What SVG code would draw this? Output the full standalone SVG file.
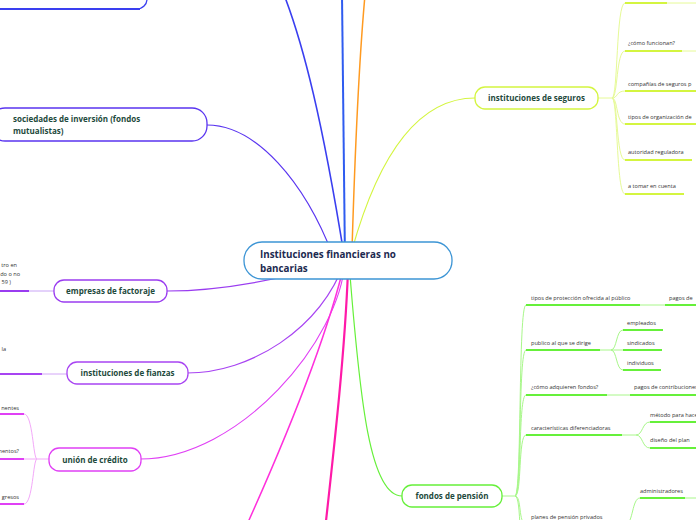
<svg xmlns="http://www.w3.org/2000/svg" width="696" height="520" viewBox="0 0 696 520">
<style>
.node{fill:#fff;stroke-width:1.3}
.nt{font-family:"Open Sans","Noto Sans",sans-serif;font-weight:700;font-size:8px;fill:#1e4a3c}
.ct{font-family:"Open Sans","Noto Sans",sans-serif;font-weight:700;font-size:9.8px;fill:#1c2a50}
.lt{font-family:"Open Sans","Noto Sans",sans-serif;font-size:5.6px;fill:#333}
.c{fill:none}
</style>
<rect width="696" height="520" fill="#fff"/>
<g id="connectors">
  <path class="c" d="M345 261 C324 130 304 40 278 -20" stroke="#3a3ff0" stroke-width="1.6"/>
  <path class="c" d="M345 261 C344 170 343 80 342 -5" stroke="#2f5cf0" stroke-width="2"/>
  <path class="c" d="M352 250 C355 150 360 50 365 -5" stroke="#ff9a20" stroke-width="1.5"/>
  <path class="c" d="M335 261 C305 180 255 125 207 125" stroke="#5a35f0" stroke-width="1.2"/>
  <path class="c" d="M345 261 C280 280 220 291 167 291" stroke="#9a3cf0" stroke-width="1.2"/>
  <path class="c" d="M345 261 C320 330 250 373 187 373" stroke="#a844f2" stroke-width="1.2"/>
  <path class="c" d="M345 261 C340 340 240 459 140 459" stroke="#e040f5" stroke-width="1.1"/>
  <path class="c" d="M345 261 Q322 360 240 540" stroke="#ff30dc" stroke-width="1.5"/>
  <path class="c" d="M348 270 C345 350 335 440 325 530" stroke="#ff1aa8" stroke-width="2.2"/>
  <path class="c" d="M350 275 C360 400 370 496 402 496" stroke="#66f03a" stroke-width="1.2"/>
  <path class="c" d="M352 250 C380 150 420 98 475 98" stroke="#d4f540" stroke-width="1.2"/>

  <line x1="0" y1="9" x2="140" y2="9" stroke="#3a3ff0" stroke-width="2"/>

  <line x1="29" y1="291" x2="54" y2="291" stroke="#c9a4f6" stroke-width="1"/>
  <line x1="0" y1="291" x2="29" y2="291" stroke="#9a3cf0" stroke-width="2"/>
  <line x1="42" y1="374" x2="67" y2="374" stroke="#d2a6f7" stroke-width="1"/>
  <line x1="0" y1="374" x2="42" y2="374" stroke="#a844f2" stroke-width="2"/>
  <path class="c" d="M49 459 L37 459 C33 459 33 414 24 414" stroke="#f3a8f9" stroke-width="1"/>
  <path class="c" d="M37 459 L24 459" stroke="#f3a8f9" stroke-width="1"/>
  <path class="c" d="M37 459 C33 459 33 504 24 504" stroke="#f3a8f9" stroke-width="1"/>
  <line x1="0" y1="414" x2="24" y2="414" stroke="#e040f5" stroke-width="2"/>
  <line x1="0" y1="459" x2="24" y2="459" stroke="#e040f5" stroke-width="2"/>
  <line x1="0" y1="504" x2="24" y2="504" stroke="#e040f5" stroke-width="2"/>

  <g stroke="#e6fa96" stroke-width="1" fill="none">
    <path d="M598 98 L612 98"/>
    <path d="M612 98 C618 98 616 3 625 3"/>
    <path d="M612 98 C618 98 616 51 625 51"/>
    <path d="M612 98 C618 98 616 91 625 91"/>
    <path d="M612 98 C618 98 616 124 625 124"/>
    <path d="M612 98 C618 98 616 160 625 160"/>
    <path d="M612 98 C618 98 616 194 625 194"/>
    <line x1="667" y1="3" x2="696" y2="3"/>
    <line x1="682" y1="51" x2="696" y2="51"/>
  </g>
  <g stroke="#d4f540" stroke-width="2">
    <line x1="625" y1="3" x2="667" y2="3"/>
    <line x1="625" y1="51" x2="682" y2="51"/>
    <line x1="625" y1="91" x2="696" y2="91"/>
    <line x1="625" y1="124" x2="696" y2="124"/>
    <line x1="625" y1="160" x2="692" y2="160"/>
    <line x1="625" y1="194" x2="684" y2="194"/>
  </g>

  <g stroke="#a8f78a" stroke-width="1" fill="none">
    <path d="M502 496 L515 496"/>
    <path d="M515 496 C522 496 518 305 526 305"/>
    <path d="M515 496 C522 496 518 350 526 350"/>
    <path d="M515 496 C522 496 518 395 526 395"/>
    <path d="M515 496 C522 496 518 435 526 435"/>
    <path d="M515 496 C522 496 518 524 526 524"/>
    <path d="M515 496 C522 496 518 560 526 560"/>
    <line x1="640" y1="305" x2="665" y2="305"/>
    <path d="M600 350 L611 350 C617 350 616 330 623 330"/>
    <path d="M611 350 L623 350"/>
    <path d="M611 350 C617 350 616 370 623 370"/>
    <line x1="607" y1="395" x2="630" y2="395"/>
    <path d="M622 435 L636 435 C643 435 642 422 650 422"/>
    <path d="M636 435 C643 435 642 448 650 448"/>
    <path d="M610 524 L626 524 C633 524 632 498 640 498"/>
    <line x1="685" y1="498" x2="696" y2="498"/>
  </g>
  <g stroke="#66f03a" stroke-width="2">
    <line x1="526" y1="305" x2="640" y2="305"/>
    <line x1="665" y1="305" x2="696" y2="305"/>
    <line x1="526" y1="350" x2="600" y2="350"/>
    <line x1="623" y1="330" x2="663" y2="330"/>
    <line x1="623" y1="350" x2="662" y2="350"/>
    <line x1="623" y1="370" x2="661" y2="370"/>
    <line x1="526" y1="395" x2="607" y2="395"/>
    <line x1="630" y1="395" x2="696" y2="395"/>
    <line x1="526" y1="435" x2="622" y2="435"/>
    <line x1="650" y1="422" x2="696" y2="422"/>
    <line x1="650" y1="448" x2="696" y2="448"/>
    <line x1="526" y1="524" x2="610" y2="524"/>
    <line x1="640" y1="498" x2="685" y2="498"/>
  </g>
</g>

<g id="node-top-left">
  <rect class="node" x="-30" y="-30" width="177" height="39" rx="10" stroke="#3a3ff0" stroke-width="0.8"/>
  <line x1="0" y1="9" x2="140" y2="9" stroke="#3a3ff0" stroke-width="2"/>
</g>

<g id="node-sociedades">
  <rect class="node" x="-10" y="108" width="217" height="33" rx="15" stroke="#5a35f0"/>
  <text class="nt" x="13" y="122">sociedades de inversión (fondos</text>
  <text class="nt" x="13" y="134">mutualistas)</text>
</g>

<g id="node-factoraje">
  <rect class="node" x="54" y="280" width="113" height="22" rx="10" stroke="#9a3cf0"/>
  <text class="nt" x="110.5" y="294" text-anchor="middle">empresas de factoraje</text>
</g>
<g id="leaf-factoraje">
  <text class="lt" x="17" y="267" text-anchor="end">tro en</text>
  <text class="lt" x="20" y="276" text-anchor="end">do o no</text>
  <text class="lt" x="11" y="284" text-anchor="end">59 )</text>
</g>

<g id="node-fianzas">
  <rect class="node" x="67" y="362" width="121" height="22" rx="10" stroke="#a844f2"/>
  <text class="nt" x="127.5" y="376" text-anchor="middle">instituciones de fianzas</text>
</g>
<g id="leaf-fianzas">
  <text class="lt" x="6" y="351" text-anchor="end">la</text>
</g>

<g id="node-union">
  <rect class="node" x="49" y="448" width="92" height="23" rx="10" stroke="#e040f5"/>
  <text class="nt" x="95" y="462.5" text-anchor="middle">unión de crédito</text>
</g>
<g id="leaf-union">
  <text class="lt" x="19" y="410" text-anchor="end">nentes</text>
  <text class="lt" x="19" y="453" text-anchor="end">mentos?</text>
  <text class="lt" x="19" y="499" text-anchor="end">gresos</text>
</g>

<g id="node-center">
  <rect class="node" x="244" y="242" width="208" height="37" rx="18" stroke="#3d95d5"/>
  <text class="ct" x="260" y="258">Instituciones financieras no</text>
  <text class="ct" x="260" y="272">bancarias</text>
</g>

<g id="node-seguros">
  <rect class="node" x="475" y="87" width="123" height="22" rx="10" stroke="#d4f540"/>
  <text class="nt" x="536.5" y="101" text-anchor="middle">instituciones de seguros</text>
</g>
<g id="leaves-seguros">
  <text class="lt" x="628" y="45">¿cómo funcionan?</text>
  <text class="lt" x="628" y="86">compañías de seguros p</text>
  <text class="lt" x="628" y="119">tipos de organización de</text>
  <text class="lt" x="628" y="154">autoridad reguladora</text>
  <text class="lt" x="628" y="188">a tomar en cuenta</text>
</g>

<g id="node-fondos">
  <rect class="node" x="402" y="485" width="100" height="22" rx="10" stroke="#66f03a"/>
  <text class="nt" x="452" y="499" text-anchor="middle">fondos de pensión</text>
</g>
<g id="leaves-fondos">
  <text class="lt" x="531" y="300">tipos de protección ofrecida al público</text>
  <text class="lt" x="669" y="300">pagos de</text>
  <text class="lt" x="531" y="345">publico al que se dirige</text>
  <text class="lt" x="627" y="325">empleados</text>
  <text class="lt" x="627" y="345">sindicados</text>
  <text class="lt" x="627" y="365">individuos</text>
  <text class="lt" x="531" y="389">¿cómo adquieren fondos?</text>
  <text class="lt" x="634" y="389">pagos de contribuciones</text>
  <text class="lt" x="531" y="430">características diferenciadoras</text>
  <text class="lt" x="650" y="417">método para hacer</text>
  <text class="lt" x="650" y="442">diseño del plan</text>
  <text class="lt" x="640" y="493">administradores</text>
  <text class="lt" x="531" y="519">planes de pensión privados</text>
</g>
</svg>
